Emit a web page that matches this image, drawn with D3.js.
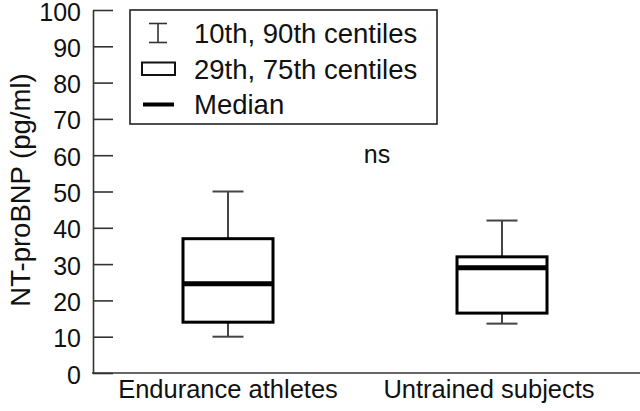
<!DOCTYPE html>
<html>
<head>
<meta charset="utf-8">
<script src="https://cdn.jsdelivr.net/npm/d3@7"></script>
<style>
  html, body { margin: 0; padding: 0; background: #fff; }
  svg { display: block; font-family: "Liberation Sans", Arial, sans-serif; }
</style>
</head>
<body>
<svg id="chart" width="640" height="411"></svg>
<script>
const groups = ['Endurance athletes', 'Untrained subjects'];
const p10 = [10, 13.6];
const p25 = [14, 16.5];
const median = [24.6, 29];
const p75 = [37, 32];
const p90 = [50, 42];
const yTicks = [0, 10, 20, 30, 40, 50, 60, 70, 80, 90, 100];
const legendItems = ['10th, 90th centiles', '29th, 75th centiles', 'Median'];

const svg = d3.select('#chart');

const y = d3.scaleLinear().domain([0, 100]).range([373, 10]);
const x = d3.scalePoint().domain(groups).range([228, 502]);
const boxW = 90;
const capW = 31;

const rows = groups.map((g, i) => ({
  g, lo: p10[i], q1: p25[i], med: median[i], q3: p75[i], hi: p90[i]
}));

// axes
const yAxis = d3.axisRight(y).tickValues(yTicks).tickSize(20).tickSizeOuter(0).tickFormat(d3.format('d'));
const ya = svg.append('g').attr('transform', 'translate(93,0)').call(yAxis);
ya.select('.domain').attr('stroke', '#333').attr('stroke-width', 1.6);
ya.selectAll('.tick line').attr('stroke', '#333').attr('stroke-width', 1.6);
ya.selectAll('.tick text')
  .attr('x', -12)
  .attr('text-anchor', 'end')
  .attr('dy', '0.4em')
  .attr('font-size', 25)
  .attr('font-family', '"Liberation Sans", Arial, sans-serif')
  .attr('fill', '#111');

svg.append('line')
  .attr('x1', 92).attr('x2', 640)
  .attr('y1', y(0)).attr('y2', y(0))
  .attr('stroke', '#333').attr('stroke-width', 1.6);

// category labels
const labelShift = [0, -13];
svg.selectAll('text.cat')
  .data(groups)
  .join('text')
  .attr('class', 'cat')
  .attr('x', (d, i) => x(d) + labelShift[i])
  .attr('y', 398)
  .attr('text-anchor', 'middle')
  .attr('font-size', 25.5)
  .attr('fill', '#111')
  .text((d) => d);

// y title
svg.append('text')
  .attr('transform', 'translate(30,190) rotate(-90)')
  .attr('text-anchor', 'middle')
  .attr('font-size', 27.5)
  .attr('fill', '#111')
  .text('NT-proBNP (pg/ml)');

// boxes
const bx = svg.append('g');
const b = bx.selectAll('g.box').data(rows).join('g').attr('class', 'box')
  .attr('transform', (d) => `translate(${x(d.g)},0)`);

b.append('line').attr('y1', (d) => y(d.hi)).attr('y2', (d) => y(d.q3))
  .attr('stroke', '#444').attr('stroke-width', 2);
b.append('line').attr('y1', (d) => y(d.lo)).attr('y2', (d) => y(d.q1))
  .attr('stroke', '#444').attr('stroke-width', 2);
b.append('line').attr('x1', -capW / 2).attr('x2', capW / 2)
  .attr('y1', (d) => y(d.hi)).attr('y2', (d) => y(d.hi))
  .attr('stroke', '#444').attr('stroke-width', 2);
b.append('line').attr('x1', -capW / 2).attr('x2', capW / 2)
  .attr('y1', (d) => y(d.lo)).attr('y2', (d) => y(d.lo))
  .attr('stroke', '#444').attr('stroke-width', 2);
b.append('rect')
  .attr('x', -boxW / 2).attr('width', boxW)
  .attr('y', (d) => y(d.q3)).attr('height', (d) => y(d.q1) - y(d.q3))
  .attr('fill', '#fff').attr('stroke', '#000').attr('stroke-width', 3);
b.append('line').attr('x1', -boxW / 2).attr('x2', boxW / 2)
  .attr('y1', (d) => y(d.med)).attr('y2', (d) => y(d.med))
  .attr('stroke', '#000').attr('stroke-width', 5);

// ns
svg.append('text')
  .attr('x', 377).attr('y', 163)
  .attr('text-anchor', 'middle')
  .attr('font-size', 25)
  .attr('fill', '#111')
  .text('ns');

// legend
const lg = svg.append('g');
lg.append('rect')
  .attr('x', 130).attr('y', 10).attr('width', 307).attr('height', 114)
  .attr('fill', '#fff').attr('stroke', '#222').attr('stroke-width', 1.6);

const rowY = [43, 79, 114];
lg.selectAll('text.leg').data(legendItems).join('text')
  .attr('class', 'leg')
  .attr('x', 194).attr('y', (d, i) => rowY[i])
  .attr('font-size', 27.5)
  .attr('fill', '#111')
  .text((d) => d);

// symbols
const sy = lg.append('g').attr('stroke', '#333').attr('stroke-width', 1.6).attr('fill', 'none');
sy.append('line').attr('x1', 149).attr('x2', 167).attr('y1', 23.5).attr('y2', 23.5);
sy.append('line').attr('x1', 149).attr('x2', 167).attr('y1', 42.5).attr('y2', 42.5);
sy.append('line').attr('x1', 158).attr('x2', 158).attr('y1', 23.5).attr('y2', 42.5);
sy.append('rect').attr('x', 142).attr('y', 62.5).attr('width', 33).attr('height', 12.5)
  .attr('stroke', '#111').attr('stroke-width', 2);
lg.append('line').attr('x1', 143).attr('x2', 174).attr('y1', 104.5).attr('y2', 104.5)
  .attr('stroke', '#000').attr('stroke-width', 4);
</script>
</body>
</html>
